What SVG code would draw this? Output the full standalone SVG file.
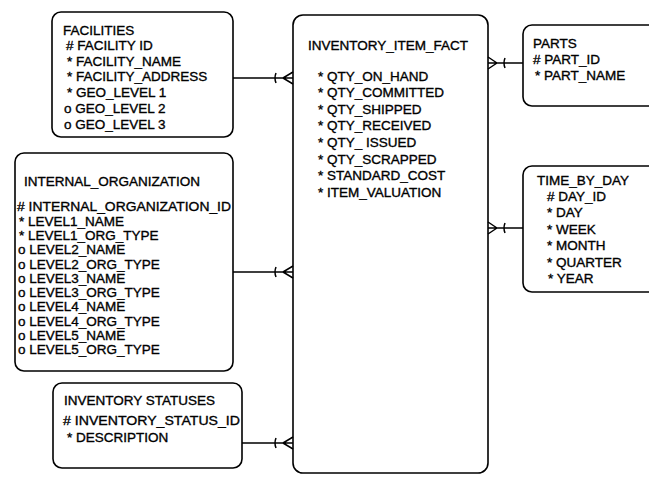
<svg xmlns="http://www.w3.org/2000/svg" width="649" height="482" viewBox="0 0 649 482">
<style>
.box{fill:#fff;stroke:#000;stroke-width:1.6}
.t{font-family:"Liberation Sans",Arial,sans-serif;font-size:13.5px;fill:#000;stroke:#000;stroke-width:0.35}
.c{fill:none;stroke:#000;stroke-width:1.5}
</style>
<rect width="649" height="482" fill="#fff"/>
<g id="facilities">
<rect class="box" x="52" y="12" width="181" height="125" rx="9"/>
<text class="t" x="63" y="34.5">FACILITIES</text>
<text class="t" x="66" y="50"># FACILITY ID</text>
<text class="t" x="67" y="65.5">* FACILITY_NAME</text>
<text class="t" x="67" y="81">* FACILITY_ADDRESS</text>
<text class="t" x="67" y="97">* GEO_LEVEL 1</text>
<text class="t" x="64" y="112.5">o GEO_LEVEL 2</text>
<text class="t" x="64" y="129">o GEO_LEVEL 3</text>
</g>
<g id="inventory_item_fact">
<rect class="box" x="293" y="15" width="195" height="458" rx="10"/>
<text class="t" x="308" y="50">INVENTORY_ITEM_FACT</text>
<text class="t" x="318" y="81">* QTY_ON_HAND</text>
<text class="t" x="318" y="97">* QTY_COMMITTED</text>
<text class="t" x="318" y="114">* QTY_SHIPPED</text>
<text class="t" x="318" y="130">* QTY_RECEIVED</text>
<text class="t" x="318" y="147">* QTY_ ISSUED</text>
<text class="t" x="318" y="163.5">* QTY_SCRAPPED</text>
<text class="t" x="318" y="180">* STANDARD_COST</text>
<text class="t" x="318" y="196.5">* ITEM_VALUATION</text>
</g>
<g id="parts">
<rect class="box" x="523" y="25" width="140" height="81" rx="9"/>
<text class="t" x="533" y="48">PARTS</text>
<text class="t" x="533" y="64"># PART_ID</text>
<text class="t" x="535" y="80">* PART_NAME</text>
</g>
<g id="time_by_day">
<rect class="box" x="523" y="166" width="140" height="126" rx="9"/>
<text class="t" x="537" y="185">TIME_BY_DAY</text>
<text class="t" x="547" y="201"># DAY_ID</text>
<text class="t" x="547" y="217">* DAY</text>
<text class="t" x="547" y="233.5">* WEEK</text>
<text class="t" x="547" y="250">* MONTH</text>
<text class="t" x="547" y="266.5">* QUARTER</text>
<text class="t" x="548" y="283">*  YEAR</text>
</g>
<g id="internal_organization">
<rect class="box" x="15" y="153" width="218" height="218" rx="9"/>
<text class="t" x="24" y="186">INTERNAL_ORGANIZATION</text>
<text class="t" x="17" y="211" textLength="214" lengthAdjust="spacingAndGlyphs"># INTERNAL_ORGANIZATION_ID</text>
<text class="t" x="19" y="225.5">* LEVEL1_NAME</text>
<text class="t" x="19" y="240">* LEVEL1_ORG_TYPE</text>
<text class="t" x="18" y="254">o LEVEL2_NAME</text>
<text class="t" x="18" y="268.5">o LEVEL2_ORG_TYPE</text>
<text class="t" x="18" y="282.5">o LEVEL3_NAME</text>
<text class="t" x="18" y="297">o LEVEL3_ORG_TYPE</text>
<text class="t" x="18" y="311">o LEVEL4_NAME</text>
<text class="t" x="18" y="325.5">o LEVEL4_ORG_TYPE</text>
<text class="t" x="18" y="339.5">o LEVEL5_NAME</text>
<text class="t" x="18" y="354">o LEVEL5_ORG_TYPE</text>
</g>
<g id="inventory_statuses">
<rect class="box" x="53" y="383" width="189" height="85" rx="9"/>
<text class="t" x="64" y="405">INVENTORY STATUSES</text>
<text class="t" x="63" y="425" textLength="177" lengthAdjust="spacingAndGlyphs"># INVENTORY_STATUS_ID</text>
<text class="t" x="67" y="442">* DESCRIPTION</text>
</g>
<g id="connectors">
<path class="c" d="M233,78H293M276,73Q274,78 276,83M283,78L293,72M283,78L293,84"/>
<path class="c" d="M233,272H293M276,267Q274,272 276,277M283,272L293,266M283,272L293,278"/>
<path class="c" d="M242,443H293M276,438Q274,443 276,448M283,443L293,437M283,443L293,449"/>
<path class="c" d="M488,63H523M505,58Q503,63 505,68M497,63L488,57M497,63L488,69"/>
<path class="c" d="M488,228H523M505,223Q503,228 505,233M497,228L488,222M497,228L488,234"/>
</g>
</svg>
